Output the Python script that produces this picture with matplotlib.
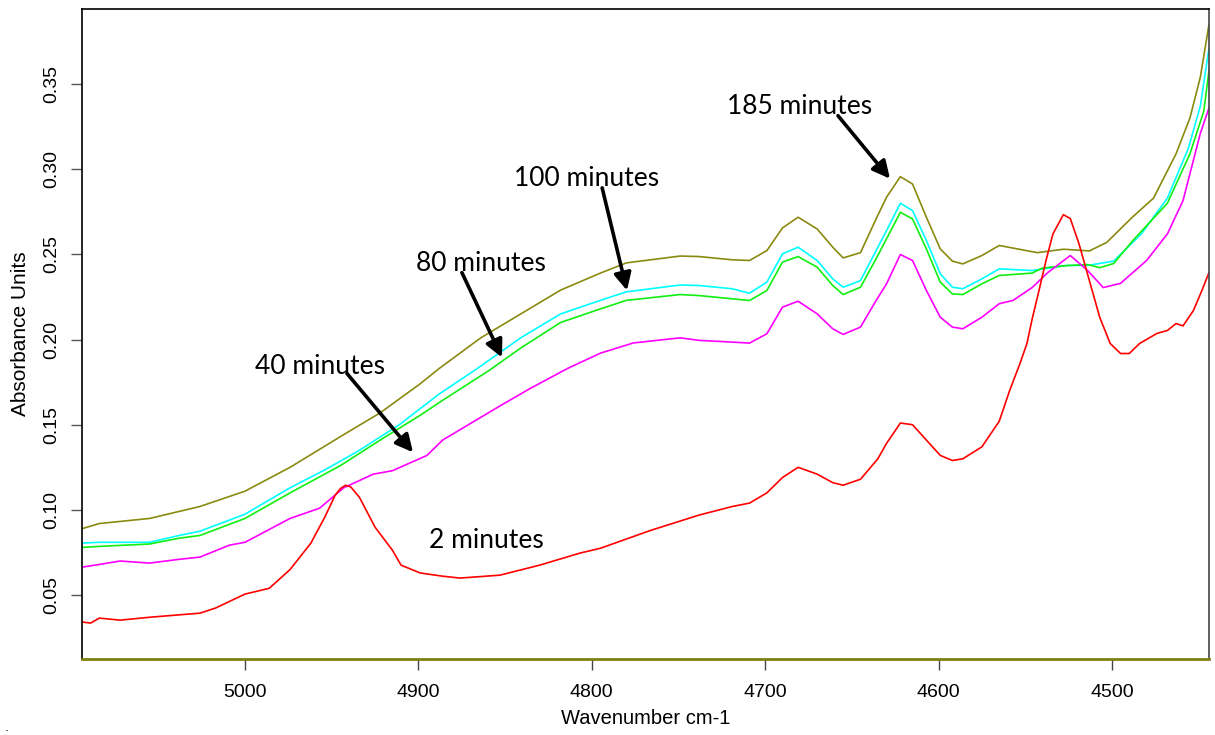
import matplotlib
matplotlib.use("Agg")
import matplotlib.pyplot as plt

# ---------------- data ----------------
wn_185 = [5094, 5084, 5055, 5026, 5000, 4974, 4945, 4922, 4899, 4888, 4864, 4841, 4818, 4795,
          4780, 4749, 4738, 4719, 4709, 4699, 4690, 4681, 4670, 4661, 4655, 4645, 4636, 4630,
          4622, 4615, 4607, 4599, 4592, 4586, 4575, 4565, 4543, 4528, 4513, 4503, 4488, 4476,
          4463, 4455, 4449, 4444]
ab_185 = [0.089, 0.092, 0.095, 0.102, 0.111, 0.125, 0.143, 0.157, 0.174, 0.183, 0.201, 0.215,
          0.229, 0.239, 0.245, 0.249, 0.2487, 0.2468, 0.2464, 0.2522, 0.2655, 0.2718, 0.2649,
          0.2542, 0.2479, 0.251, 0.2708, 0.2835, 0.2956, 0.2913, 0.2718, 0.2532, 0.246, 0.2444,
          0.2493, 0.2552, 0.251, 0.253, 0.252, 0.257, 0.272, 0.283, 0.309, 0.330, 0.354, 0.385]

wn_100 = [5094, 5084, 5055, 5038, 5026, 5000, 4974, 4953, 4934, 4911, 4888, 4866, 4841, 4818,
          4795, 4780, 4749, 4738, 4719, 4709, 4699, 4690, 4681, 4670, 4661, 4655, 4645, 4636,
          4630, 4622, 4615, 4607, 4599, 4592, 4586, 4575, 4565, 4546, 4526, 4514, 4499, 4483,
          4468, 4456, 4449, 4444]
ab_100 = [0.0805, 0.081, 0.081, 0.085, 0.0875, 0.0975, 0.113, 0.124, 0.135, 0.150, 0.168, 0.183,
          0.201, 0.215, 0.223, 0.228, 0.232, 0.2317, 0.2298, 0.2272, 0.2337, 0.2503, 0.2542,
          0.2464, 0.2356, 0.2307, 0.2346, 0.2522, 0.2639, 0.2800, 0.2757, 0.2581, 0.2386,
          0.2307, 0.2298, 0.2356, 0.2415, 0.2405, 0.2435, 0.2435, 0.246, 0.262, 0.283, 0.312,
          0.337, 0.371]

wn_80 = [5094, 5084, 5055, 5038, 5026, 5000, 4974, 4945, 4922, 4899, 4888, 4859, 4841, 4818,
         4795, 4780, 4749, 4738, 4719, 4709, 4699, 4690, 4681, 4670, 4661, 4655, 4645, 4636,
         4630, 4622, 4615, 4607, 4599, 4592, 4586, 4575, 4565, 4546, 4540, 4526, 4514, 4507,
         4499, 4488, 4468, 4455, 4447, 4444]
ab_80 = [0.078, 0.0786, 0.080, 0.0834, 0.085, 0.095, 0.110, 0.126, 0.141, 0.1555, 0.163, 0.182,
         0.195, 0.210, 0.218, 0.223, 0.2264, 0.2258, 0.2239, 0.2229, 0.2288, 0.2454, 0.2487,
         0.2425, 0.2317, 0.2264, 0.2307, 0.2474, 0.2591, 0.2747, 0.2708, 0.2532, 0.2337,
         0.2268, 0.2264, 0.2327, 0.2376, 0.239, 0.242, 0.2434, 0.244, 0.2422, 0.2446, 0.258,
         0.280, 0.309, 0.334, 0.358]

wn_40 = [5094, 5084, 5072, 5055, 5038, 5026, 5009, 5000, 4974, 4957, 4943, 4926, 4915, 4895,
         4886, 4853, 4836, 4814, 4795, 4776, 4749, 4738, 4719, 4709, 4699, 4690, 4681, 4670,
         4661, 4655, 4645, 4636, 4630, 4622, 4615, 4607, 4599, 4592, 4586, 4575, 4565, 4557,
         4546, 4537, 4524, 4514, 4505, 4495, 4480, 4468, 4459, 4449, 4444]
ab_40 = [0.0664, 0.068, 0.070, 0.0688, 0.071, 0.0723, 0.0793, 0.081, 0.095, 0.101, 0.113, 0.121,
         0.123, 0.132, 0.141, 0.161, 0.171, 0.183, 0.192, 0.198, 0.201, 0.1995, 0.1985, 0.1979,
         0.2034, 0.2190, 0.2225, 0.2151, 0.2063, 0.2030, 0.2073, 0.2229, 0.2327, 0.2499,
         0.2464, 0.2288, 0.2131, 0.2073, 0.2063, 0.2131, 0.2210, 0.223, 0.2305, 0.2393,
         0.2493, 0.2405, 0.2305, 0.233, 0.2464, 0.262, 0.2815, 0.321, 0.336]

wn_2 = [5094, 5089, 5084, 5072, 5055, 5026, 5017, 5000, 4986, 4974, 4962, 4954, 4948, 4945,
        4942, 4939, 4934, 4925, 4915, 4910, 4899, 4886, 4876, 4853, 4830, 4807, 4795, 4766,
        4738, 4719, 4709, 4699, 4690, 4681, 4670, 4661, 4655, 4645, 4635, 4630, 4622, 4615,
        4607, 4599, 4592, 4586, 4575, 4565, 4559, 4553, 4549, 4546, 4542, 4538, 4534, 4528,
        4524, 4519, 4513, 4507, 4501, 4495, 4490, 4484, 4474, 4468, 4463, 4459, 4453, 4448,
        4444]
ab_2 = [0.0342, 0.0336, 0.0365, 0.0353, 0.037, 0.0394, 0.0424, 0.0506, 0.054, 0.065, 0.0805,
        0.0957, 0.1086, 0.1125, 0.1145, 0.1135, 0.1074, 0.0899, 0.0764, 0.0676, 0.063, 0.0611,
        0.060, 0.0617, 0.0676, 0.0746, 0.0775, 0.088, 0.097, 0.102, 0.104, 0.110, 0.119,
        0.125, 0.121, 0.116, 0.1145, 0.118, 0.130, 0.139, 0.151, 0.150, 0.141, 0.132, 0.129,
        0.130, 0.137, 0.152, 0.170, 0.186, 0.1977, 0.212, 0.229, 0.2464, 0.262, 0.2733,
        0.271, 0.2563, 0.2346, 0.213, 0.1977, 0.1918, 0.1918, 0.1977, 0.2036, 0.2053, 0.2094,
        0.208, 0.217, 0.229, 0.2393]

labels = ["185 minutes", "100 minutes", "80 minutes", "40 minutes", "2 minutes"]
x_ticks = [5000, 4900, 4800, 4700, 4600, 4500]
y_ticks = [0.05, 0.10, 0.15, 0.20, 0.25, 0.30, 0.35]

# ---------------- figure ----------------
fig = plt.figure(figsize=(12.15, 7.35), dpi=100)
ax = fig.add_axes([82 / 1215, 76 / 735, (1209 - 82) / 1215, (659 - 9) / 735])

series = [(wn_185, ab_185, "#8a8a10"), (wn_100, ab_100, "#00ffff"), (wn_80, ab_80, "#11ee11"),
          (wn_40, ab_40, "#ff00ff"), (wn_2, ab_2, "#ff0000")]
for wn, ab, col in series:
    ax.plot(wn, ab, color=col, lw=1.2, solid_joinstyle="round")

ax.set_xlim(5094, 4444)
ax.set_ylim(0.0125, 0.394)
ax.set_xticks(x_ticks)
ax.set_xticklabels([str(t) for t in x_ticks])
ax.set_yticks(y_ticks)
ax.set_yticklabels([f"{t:.2f}" for t in y_ticks], rotation=90, va="center")

for lab in ax.get_xticklabels() + ax.get_yticklabels():
    lab.set_fontfamily("Liberation Sans")
    lab.set_fontsize(14)
ax.tick_params(axis="x", length=8, width=1, color="#444444", pad=10)
ax.tick_params(axis="y", length=8, width=1, color="#555555", pad=8)

ax.set_xlabel("Wavenumber cm-1", fontfamily="Liberation Sans", fontsize=14.5, labelpad=6)
ax.set_ylabel("Absorbance Units", fontfamily="Liberation Sans", fontsize=15, labelpad=9)

ax.spines["bottom"].set_color("#7f7f10")
ax.spines["bottom"].set_linewidth(2)
ax.spines["left"].set_color("black")
ax.spines["top"].set_color("black")
ax.spines["right"].set_color("#444444")
for s in ["left", "top", "right"]:
    ax.spines[s].set_linewidth(1.2)

ann_font = dict(family="Lato", size=19, color="black", ha="center", va="center")
text_pos = [(4680, 0.3366), (4803, 0.2944), (4864, 0.2446), (4957, 0.1842), (4861, 0.0822)]
for lab, (tx, ty) in zip(labels, text_pos):
    ax.text(tx, ty, lab, **ann_font)

arrows = [((4658, 0.3314), (4628, 0.2944)),
          ((4794, 0.2890), (4779.7, 0.2288)),
          ((4874.9, 0.2393), (4851.8, 0.1895)),
          ((4941.2, 0.1801), (4903.1, 0.1338))]
for (sx, sy), (ex, ey) in arrows:
    ax.annotate("", xy=(ex, ey), xytext=(sx, sy),
                arrowprops=dict(arrowstyle="-|>", color="black", lw=2.6,
                                mutation_scale=26, shrinkA=0, shrinkB=0))

fig.text(0.004, 0.006, ".", fontsize=9)
fig.savefig("out.png", dpi=100)
